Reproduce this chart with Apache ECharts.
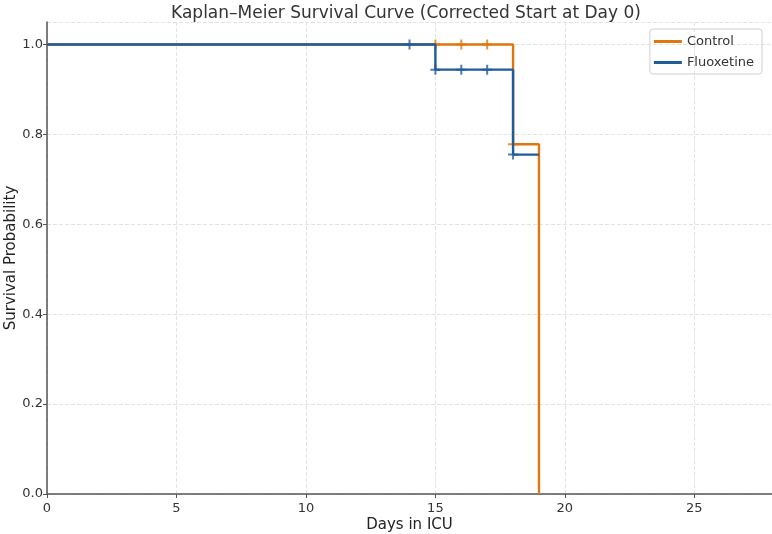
<!DOCTYPE html>
<html>
<head>
<meta charset="utf-8">
<script src="https://cdn.jsdelivr.net/npm/echarts@6/dist/echarts.min.js"></script>
<style>
  html, body { margin: 0; padding: 0; background: #fff; }
  #chart { width: 772px; height: 534px; }
</style>
</head>
<body>
<div id="chart"></div>
<script>
// survival steps: [day, probability]
const controlSteps = [[0, 1.0], [18, 0.778], [19, 0.0]];
const fluoxSteps = [[0, 1.0], [15, 0.944], [18, 0.755], [19, 0.755]];
// censored observations
const controlCensor = [[15, 1.0], [16, 1.0], [17, 1.0], [18, 0.778]];
const fluoxCensor = [[14, 1.0], [15, 0.944], [16, 0.944], [17, 0.944], [18, 0.755]];

const orange = '#E0760F';
const blue = '#1F5C99';
const plus = 'path://M4,0H6V4H10V6H6V10H4V6H0V4H4Z';
const font = 'DejaVu Sans';

let chart = echarts.init(document.getElementById('chart'));
let option = {
    animation: false,
    textStyle: { fontFamily: font },
    title: {
        text: 'Kaplan–Meier Survival Curve (Corrected Start at Day 0)',
        left: 401, textAlign: 'center', top: 0,
        textStyle: { fontFamily: font, fontSize: 17, fontWeight: 'normal', color: '#333' }
    },
    legend: {
        orient: 'vertical', right: 10, top: 29,
        data: ['Control', 'Fluoxetine'],
        icon: 'rect', itemWidth: 28, itemHeight: 3, itemGap: 8,
        borderColor: '#d0d0d0', borderWidth: 1, borderRadius: 3,
        padding: [6, 8, 5, 4],
        textStyle: { fontFamily: font, fontSize: 13, color: '#333' }
    },
    grid: { left: 47, right: 0, top: 22, bottom: 40, outerBoundsMode: 'none' },
    xAxis: {
        type: 'value', min: 0, max: 28, interval: 5,
        name: 'Days in ICU', nameLocation: 'middle', nameGap: 24, nameMoveOverlap: false,
        nameTextStyle: { fontFamily: font, fontSize: 15, color: '#222' },
        axisLine: { show: true, lineStyle: { color: '#555', width: 1.5 } },
        axisTick: { show: true, length: 4, lineStyle: { color: '#555' } },
        axisLabel: { fontSize: 13, color: '#333', margin: 8, showMaxLabel: false },
        splitLine: { show: true, lineStyle: { color: '#e3e3e3', type: 'dashed' } }
    },
    yAxis: {
        type: 'value', min: 0, max: 1.05, interval: 0.2,
        name: 'Survival Probability', nameLocation: 'middle', nameGap: 28, nameMoveOverlap: false,
        nameTextStyle: { fontFamily: font, fontSize: 15, color: '#222' },
        axisLine: { show: true, lineStyle: { color: '#555', width: 1.5 } },
        axisTick: { show: true, length: 4, lineStyle: { color: '#555' } },
        axisLabel: {
            fontSize: 13, color: '#333', margin: 4, showMaxLabel: false,
            formatter: v => v.toFixed(1)
        },
        splitLine: { show: true, lineStyle: { color: '#e3e3e3', type: 'dashed' } }
    },
    series: [
        {
            name: 'Control', type: 'line', step: 'end', data: controlSteps,
            showSymbol: false, color: orange, lineStyle: { width: 2.4, color: orange }, z: 2
        },
        {
            name: 'Fluoxetine', type: 'line', step: 'end', data: fluoxSteps,
            showSymbol: false, color: blue, lineStyle: { width: 2.4, color: blue }, z: 3
        },
        {
            name: 'Control', type: 'scatter', data: controlCensor,
            symbol: plus, symbolSize: 10, itemStyle: { color: orange }, z: 2
        },
        {
            name: 'Fluoxetine', type: 'scatter', data: fluoxCensor,
            symbol: plus, symbolSize: 10, itemStyle: { color: blue }, z: 3
        }
    ]
};
option && chart.setOption(option);
</script>
</body>
</html>
